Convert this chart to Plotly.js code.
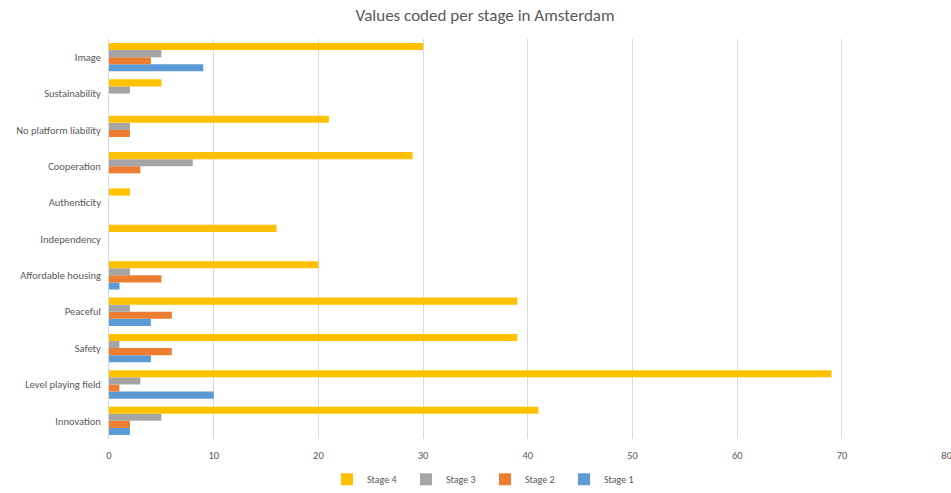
<!DOCTYPE html>
<html>
<head>
<meta charset="utf-8">
<script src="https://cdn.plot.ly/plotly-3.0.1.min.js"></script>
<style>html,body{margin:0;padding:0;background:#fff;}#chart{width:951px;height:493px;}</style>
</head>
<body>
<div id="chart"></div>
<script>
var categories = ["Innovation", "Level playing field", "Safety", "Peaceful", "Affordable housing", "Independency", "Authenticity", "Cooperation", "No platform liability", "Sustainability", "Image"];
var stage1 = [2, 10, 4, 4, 1, 0, 0, 0, 0, 0, 9];
var stage2 = [2, 1, 6, 6, 5, 0, 0, 3, 2, 0, 4];
var stage3 = [5, 3, 1, 2, 2, 0, 0, 8, 2, 2, 5];
var stage4 = [41, 69, 39, 39, 20, 16, 2, 29, 21, 5, 30];
var seriesNames = ["Stage 1", "Stage 2", "Stage 3", "Stage 4"];
var seriesColors = ["#5B9BD5", "#ED7D31", "#A5A5A5", "#FFC000"];
var seriesValues = [stage1, stage2, stage3, stage4];
var xTicks = [0, 10, 20, 30, 40, 50, 60, 70, 80];

var traces = seriesValues.map(function (vals, i) {
  return {
    type: "bar",
    orientation: "h",
    name: seriesNames[i],
    y: categories,
    x: vals,
    marker: { color: seriesColors[i] },
    hoverinfo: "x+y+name"
  };
});

var font = "Calibri, Carlito, Lato, 'Open Sans', sans-serif";
var layout = {
  width: 951, height: 493,
  margin: { l: 109, r: 4, t: 39, b: 54, autoexpand: false },
  paper_bgcolor: "#fff", plot_bgcolor: "#fff",
  font: { family: font, color: "#595959", size: 10 },
  title: { text: "Values coded per stage in Amsterdam", x: 0.51, xanchor: "center", xref: "container", y: 0.97, yanchor: "middle", font: { size: 17, color: "#595959", family: font } },
  barmode: "group",
  bargap: 0.22,
  bargroupgap: 0,
  xaxis: {
    range: [0, 80.03], tickvals: xTicks, ticktext: xTicks.map(String),
    showgrid: true, gridcolor: "#D9D9D9", gridwidth: 1,
    zeroline: false, showline: false, ticks: "",
    ticklabeloverflow: "allow", ticklabelstandoff: 8,
    tickfont: { size: 10.5, color: "#595959" }, fixedrange: true
  },
  yaxis: {
    type: "category", categoryorder: "array", categoryarray: categories,
    showgrid: false, zeroline: false, showline: true, linecolor: "#D9D9D9", linewidth: 1,
    ticks: "", ticklabelstandoff: 5,
    tickfont: { size: 10.5, color: "#595959" }, fixedrange: true
  },
  legend: {
    orientation: "h", x: 0.51, xanchor: "center", xref: "container",
    y: 0.028, yanchor: "middle", yref: "container",
    traceorder: "reversed", font: { size: 10, color: "#595959" },
    itemwidth: 30, entrywidth: 34, entrywidthmode: "pixels"
  },
  showlegend: true
};

Plotly.newPlot("chart", traces, layout, { displayModeBar: false });
</script>
</body>
</html>
